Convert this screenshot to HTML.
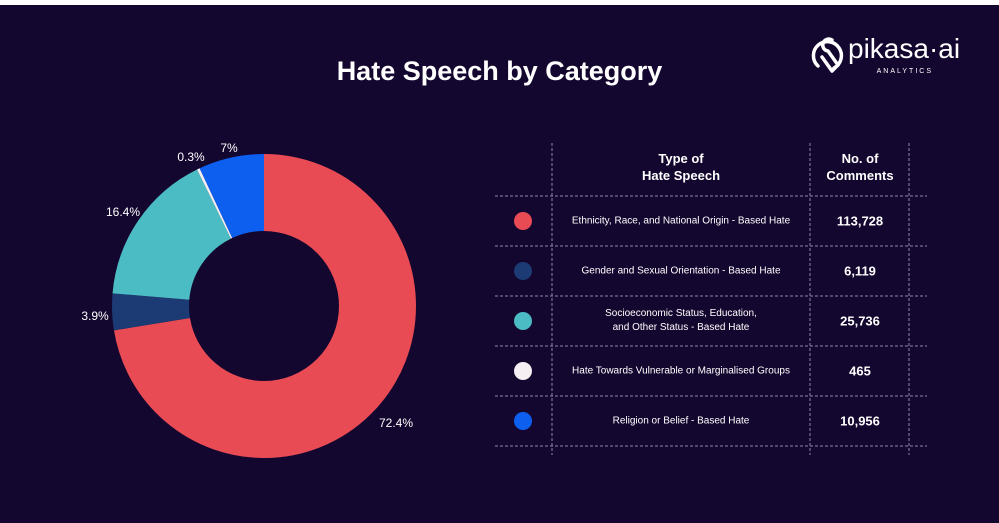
<!DOCTYPE html>
<html><head><meta charset="utf-8"><style>
body{margin:0;width:999px;height:523px;background:#14072f;overflow:hidden;font-family:"Liberation Sans",sans-serif;color:#fff;position:relative}
.top{position:absolute;left:0;top:0;width:999px;height:5px;background:#fff}
.t{position:absolute;white-space:nowrap}
.title{left:0;width:999px;text-align:center;top:56px;font-size:27px;font-weight:bold}
.lbl{font-size:12px;transform:translate(-50%,-50%)}
.cell{font-size:10px;text-align:center;transform:translate(-50%,-50%)}
.num{font-size:13px;font-weight:bold;transform:translate(-50%,-50%)}
.hd{font-size:13px;font-weight:bold;text-align:center;transform:translate(-50%,-50%);line-height:17px}
.dot{position:absolute;width:18px;height:18px;border-radius:50%;transform:translate(-50%,-50%)}
</style></head><body>
<div class="top"></div>
<div class="t title">Hate Speech by Category</div>
<svg style="position:absolute;left:0;top:0" width="999" height="523">
<g transform="rotate(-90 264 306)" fill="none" stroke-width="77">
<circle cx="264" cy="306" r="113.5" stroke="#e94b55" stroke-dasharray="516.31 1000" stroke-dashoffset="0"/>
<circle cx="264" cy="306" r="113.5" stroke="#1c3a73" stroke-dasharray="27.81 1000" stroke-dashoffset="-516.31"/>
<circle cx="264" cy="306" r="113.5" stroke="#4cbcc4" stroke-dasharray="116.95 1000" stroke-dashoffset="-544.12"/>
<circle cx="264" cy="306" r="113.5" stroke="#f5eef2" stroke-dasharray="2.14 1000" stroke-dashoffset="-661.07"/>
<circle cx="264" cy="306" r="113.5" stroke="#0d5ff0" stroke-dasharray="49.92 1000" stroke-dashoffset="-663.21"/>
</g>
<g stroke="#8f86b0" stroke-width="1" stroke-dasharray="3 2">
<line x1="552" y1="143" x2="552" y2="455"/><line x1="810" y1="143" x2="810" y2="455"/><line x1="909" y1="143" x2="909" y2="455"/>
<line x1="495" y1="196" x2="927" y2="196"/><line x1="495" y1="246" x2="927" y2="246"/><line x1="495" y1="296" x2="927" y2="296"/>
<line x1="495" y1="346" x2="927" y2="346"/><line x1="495" y1="396" x2="927" y2="396"/><line x1="495" y1="446" x2="927" y2="446"/>
</g>
<g fill="none" stroke="#fff" stroke-width="3.5" stroke-linecap="round" stroke-linejoin="round">
<path d="M818 66 A14 14 0 1 1 834 68"/>
<path d="M832 40 a6 6 0 1 0 -4 11 l10 14 l-6 6 l-10 -14"/>
</g>
<text x="848" y="58" fill="#fff" font-family="Liberation Sans" font-size="28">pikasa·ai</text>
<text x="933" y="73" fill="#fff" font-family="Liberation Sans" font-size="7" text-anchor="end" letter-spacing="2">ANALYTICS</text>
</svg>
<div class="t lbl" style="left:396px;top:423px">72.4%</div>
<div class="t lbl" style="left:95px;top:316px">3.9%</div>
<div class="t lbl" style="left:123px;top:212px">16.4%</div>
<div class="t lbl" style="left:191px;top:157px">0.3%</div>
<div class="t lbl" style="left:229px;top:148px">7%</div>
<div class="t hd" style="left:681px;top:167px">Type of<br>Hate Speech</div>
<div class="t hd" style="left:860px;top:167px">No. of<br>Comments</div>
<div class="dot" style="left:523px;top:221px;background:#e94b55"></div>
<div class="dot" style="left:523px;top:271px;background:#1c3a73"></div>
<div class="dot" style="left:523px;top:321px;background:#4cbcc4"></div>
<div class="dot" style="left:523px;top:371px;background:#f5eef2"></div>
<div class="dot" style="left:523px;top:421px;background:#0d5ff0"></div>
<div class="t cell" style="left:681px;top:221px">Ethnicity, Race, and National Origin - Based Hate</div>
<div class="t cell" style="left:681px;top:271px">Gender and Sexual Orientation - Based Hate</div>
<div class="t cell" style="left:681px;top:321px;line-height:14px">Socioeconomic Status, Education,<br>and Other Status - Based Hate</div>
<div class="t cell" style="left:681px;top:371px">Hate Towards Vulnerable or Marginalised Groups</div>
<div class="t cell" style="left:681px;top:421px">Religion or Belief - Based Hate</div>
<div class="t num" style="left:860px;top:221px">113,728</div>
<div class="t num" style="left:860px;top:271px">6,119</div>
<div class="t num" style="left:860px;top:321px">25,736</div>
<div class="t num" style="left:860px;top:371px">465</div>
<div class="t num" style="left:860px;top:421px">10,956</div>
</body></html>
